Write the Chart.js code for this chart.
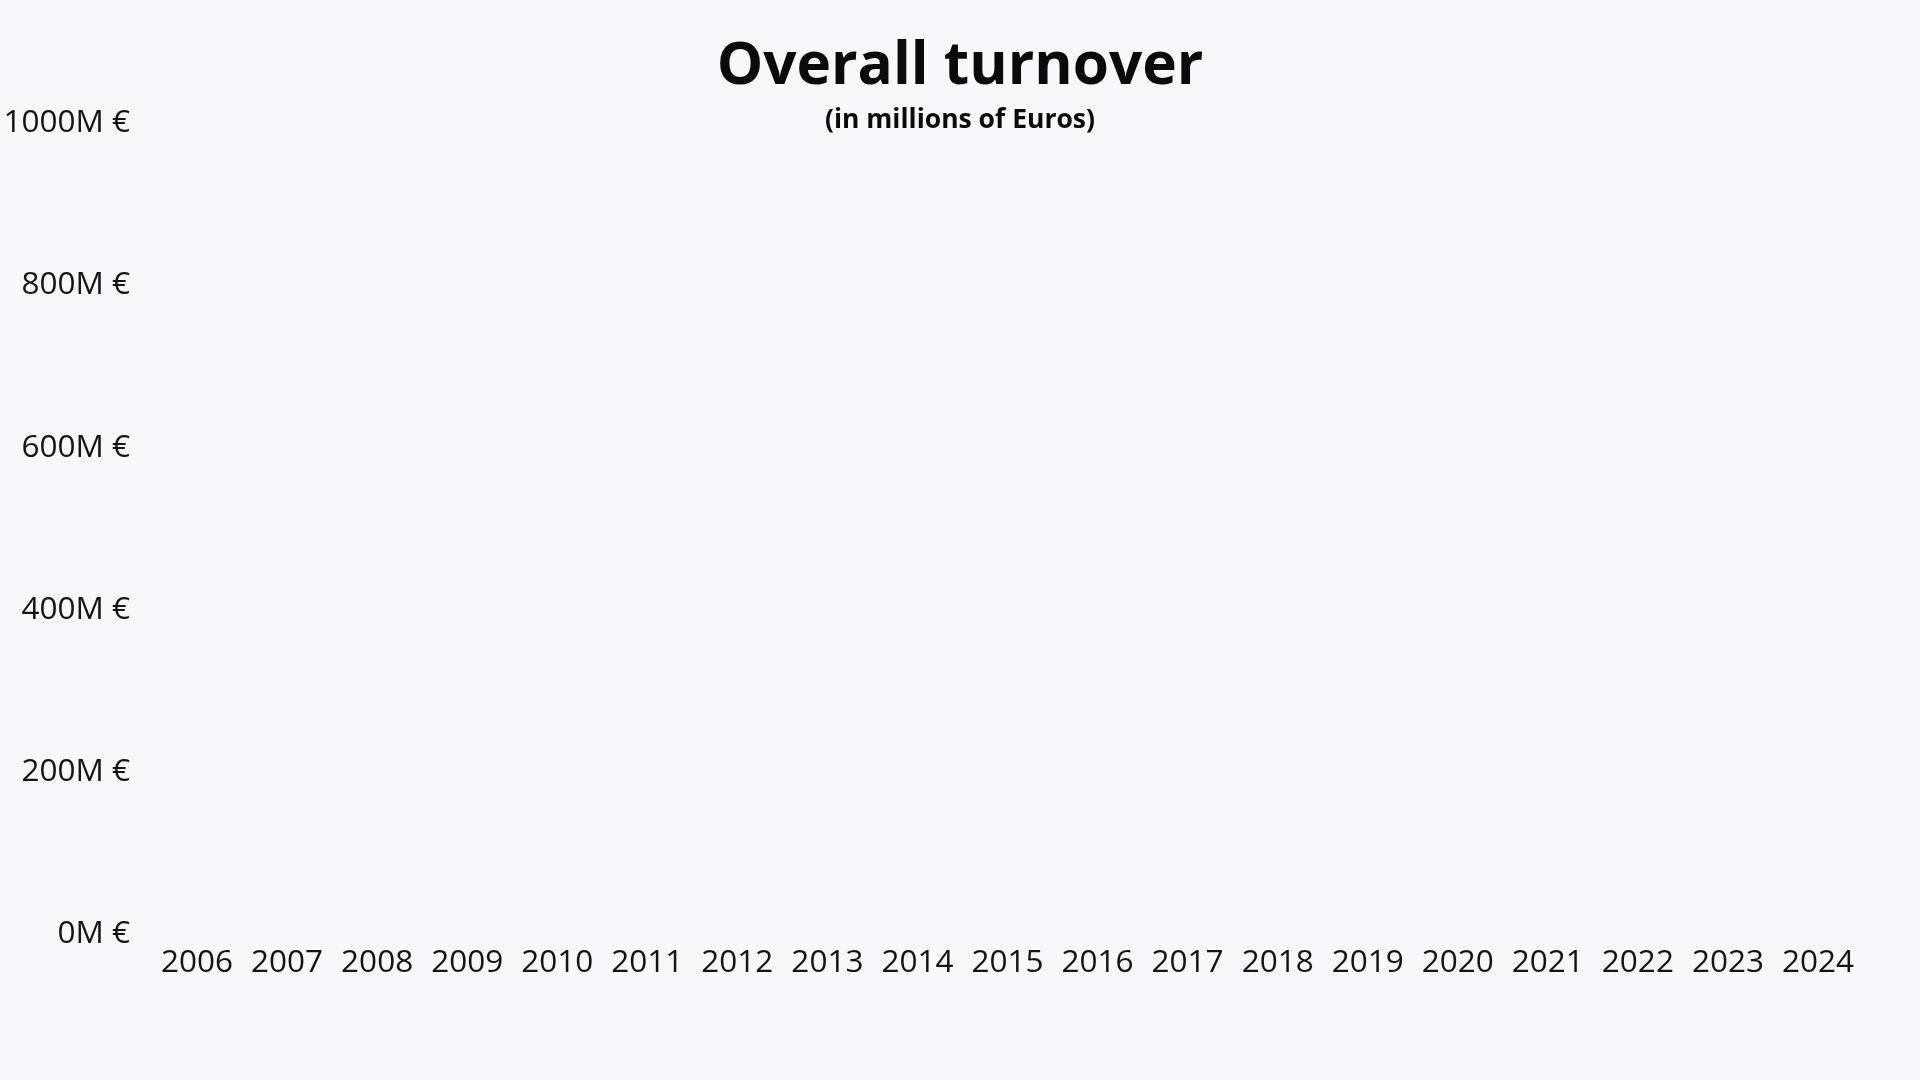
<!DOCTYPE html>
<html lang="en">
<head>
<meta charset="utf-8">
<title>Overall turnover</title>
<script src="https://cdn.jsdelivr.net/npm/chart.js@4/dist/chart.umd.min.js"></script>
<style>
    html, body { margin: 0; padding: 0; background: #f8f8fa; }
    .wrap { position: relative; width: 1920px; height: 1080px; }
    .title, .subtitle {
        position: absolute; left: 0; right: 0; margin: 0;
        text-align: center; font-family: 'Open Sans', sans-serif; font-weight: 700; color: #0a0a0a;
    }
    .title    { top: 31px;  font-size: 58.5px; line-height: 60px; }
    .subtitle { top: 105px; font-size: 26.5px; line-height: 27px; }
    canvas { position: absolute; left: 0; top: 0; }
</style>
</head>
<body>
<div class="wrap">
    <canvas id="chart"></canvas>
    <h1 class="title">Overall turnover</h1>
    <p class="subtitle">(in millions of Euros)</p>
</div>
<script>
// ── Data ──────────────────────────────────────────────────────────────────
const YEARS    = ['2006','2007','2008','2009','2010','2011','2012','2013','2014','2015',
                  '2016','2017','2018','2019','2020','2021','2022','2023','2024'];
// no bars are visible in the picture: every year sits at 0
const TURNOVER = [0,0,0,0,0,0,0,0,0,0,0,0,0,0,0,0,0,0,0];
const Y_TICKS  = [0, 200, 400, 600, 800, 1000];

const TEXT_COLOR = '#141414';
const FONT       = { family: "'Open Sans', sans-serif", size: 31.5 };

// ── Chart ─────────────────────────────────────────────────────────────────
const canvas = document.getElementById('chart');

new Chart(canvas, {
    type: 'bar',
    data: {
        labels: YEARS,
        datasets: [{
            label:           'Turnover',
            data:            TURNOVER,
            backgroundColor: '#1f4e8c',
            borderWidth:     0
        }]
    },
    options: {
        responsive:          true,
        maintainAspectRatio: false,
        animation:           false,
        layout: { padding: { top: 123, right: 57, bottom: 0, left: 0 } },
        plugins: {
            legend:  { display: false },
            tooltip: { enabled: false }
        },
        scales: {
            x: {
                grid:   { display: false, drawTicks: false },
                border: { display: false },
                ticks:  { color: TEXT_COLOR, font: FONT, padding: 10, maxRotation: 0, autoSkip: false },
                afterFit: (scale) => { scale.height = 145.5; }
            },
            y: {
                min: Y_TICKS[0],
                max: Y_TICKS[Y_TICKS.length - 1],
                grid:   { display: false, drawTicks: false },
                border: { display: false },
                afterBuildTicks: (scale) => { scale.ticks = Y_TICKS.map(v => ({ value: v })); },
                ticks: {
                    color:    TEXT_COLOR,
                    font:     FONT,
                    padding:  22,
                    callback: (v) => v + 'M €'
                },
                afterFit: (scale) => { scale.width = 152; }
            }
        }
    }
});
</script>
</body>
</html>
